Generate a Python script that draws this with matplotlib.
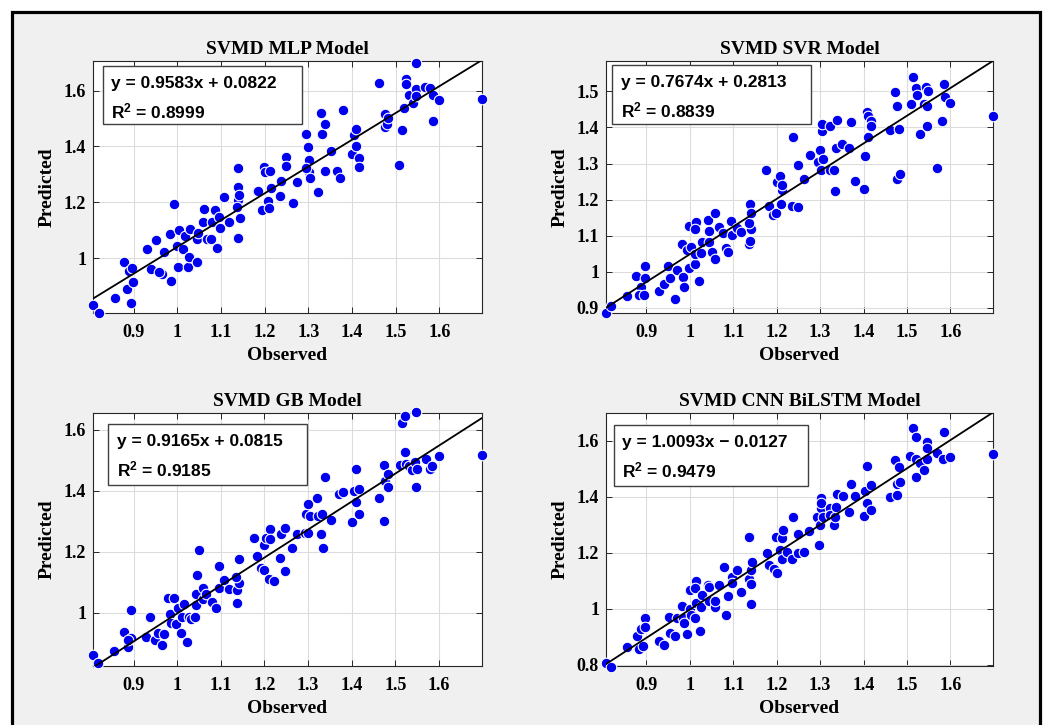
import matplotlib
matplotlib.use("Agg")
import matplotlib.pyplot as plt
from matplotlib.patches import Rectangle
from matplotlib.ticker import MultipleLocator, FuncFormatter

plt.rcParams['mathtext.fontset'] = 'custom'
plt.rcParams['mathtext.rm'] = 'Liberation Sans:bold'
plt.rcParams['mathtext.bf'] = 'Liberation Sans:bold'
plt.rcParams['mathtext.default'] = 'bf'

# --- dados ---
titles = ['SVMD MLP Model', 'SVMD SVR Model', 'SVMD GB Model', 'SVMD CNN BiLSTM Model']
slopes = [0.9583, 0.7674, 0.9165, 1.0093]
intercepts = [0.0822, 0.2813, 0.0815, -0.0127]
r2_values = [0.8999, 0.8839, 0.9185, 0.9479]

obs_mlp = [0.807, 0.821, 0.857, 0.879, 0.889, 0.886, 0.894, 0.898, 0.896, 0.930,
           0.940, 0.951, 0.966, 0.959, 0.970, 0.985, 0.984, 0.993, 0.999, 1.001,
           1.003, 1.014, 1.018, 1.024, 1.026, 1.029, 1.045, 1.045, 1.048, 1.058,
           1.061, 1.067, 1.077, 1.079, 1.086, 1.090, 1.096, 1.098, 1.108, 1.119,
           1.138, 1.140, 1.140, 1.140, 1.142, 1.143, 1.137, 1.182, 1.186, 1.193,
           1.199, 1.201, 1.207, 1.211, 1.212, 1.215, 1.235, 1.237, 1.248, 1.248,
           1.264, 1.275, 1.296, 1.300, 1.302, 1.302, 1.303, 1.294, 1.322, 1.330,
           1.332, 1.338, 1.338, 1.353, 1.367, 1.372, 1.379, 1.400, 1.404, 1.410,
           1.410, 1.416, 1.417, 1.462, 1.475, 1.475, 1.481, 1.482, 1.509, 1.514,
           1.520, 1.523, 1.523, 1.530, 1.539, 1.547, 1.547, 1.547, 1.568, 1.579,
           1.585, 1.585, 1.599, 1.698]
pred_mlp = [0.833, 0.803, 0.857, 0.988, 0.956, 0.889, 0.839, 0.914, 0.964, 1.033,
            0.961, 1.066, 0.944, 0.949, 1.024, 0.919, 1.086, 1.194, 1.044, 0.969,
            1.101, 1.032, 1.081, 0.969, 1.004, 1.104, 0.988, 1.068, 1.089, 1.131,
            1.177, 1.069, 1.068, 1.131, 1.172, 1.036, 1.149, 1.110, 1.219, 1.131,
            1.074, 1.324, 1.256, 1.209, 1.227, 1.144, 1.185, 1.239, 1.239, 1.173,
            1.328, 1.309, 1.205, 1.179, 1.314, 1.253, 1.223, 1.277, 1.364, 1.330,
            1.197, 1.273, 1.444, 1.398, 1.352, 1.310, 1.286, 1.324, 1.236, 1.521,
            1.444, 1.481, 1.313, 1.385, 1.314, 1.286, 1.532, 1.373, 1.441, 1.462,
            1.400, 1.358, 1.328, 1.626, 1.517, 1.471, 1.481, 1.503, 1.332, 1.459,
            1.536, 1.643, 1.623, 1.585, 1.555, 1.698, 1.607, 1.579, 1.614, 1.608,
            1.493, 1.585, 1.567, 1.569]

obs_svr = [0.807, 0.819, 0.855, 0.877, 0.887, 0.884, 0.894, 0.896, 0.896, 0.930,
           0.940, 0.950, 0.955, 0.965, 0.970, 0.982, 0.984, 0.986, 0.993, 0.999,
           0.999, 1.002, 1.011, 1.012, 1.015, 1.011, 1.022, 1.026, 1.027, 1.041,
           1.043, 1.045, 1.050, 1.058, 1.058, 1.068, 1.077, 1.083, 1.089, 1.095,
           1.097, 1.108, 1.118, 1.137, 1.139, 1.140, 1.137, 1.140, 1.139, 1.176,
           1.183, 1.192, 1.199, 1.200, 1.208, 1.210, 1.213, 1.212, 1.235, 1.237,
           1.248, 1.248, 1.263, 1.276, 1.296, 1.300, 1.302, 1.304, 1.304, 1.307,
           1.323, 1.323, 1.332, 1.334, 1.336, 1.338, 1.351, 1.367, 1.371, 1.380,
           1.403, 1.402, 1.407, 1.410, 1.411, 1.417, 1.417, 1.461, 1.472, 1.476,
           1.476, 1.482, 1.484, 1.509, 1.514, 1.520, 1.522, 1.530, 1.539, 1.544,
           1.547, 1.547, 1.549, 1.568, 1.580, 1.585, 1.587, 1.600, 1.698]
pred_svr = [0.886, 0.906, 0.932, 0.989, 0.958, 0.937, 0.937, 1.015, 0.983, 0.946,
            0.967, 1.015, 0.983, 0.925, 1.006, 1.076, 0.985, 0.958, 1.061, 1.127,
            1.010, 1.068, 1.021, 1.050, 1.139, 1.120, 0.975, 1.052, 1.084, 1.143,
            1.084, 1.114, 1.056, 1.035, 1.164, 1.125, 1.107, 1.065, 1.056, 1.141,
            1.102, 1.122, 1.111, 1.076, 1.188, 1.120, 1.134, 1.162, 1.086, 1.281,
            1.183, 1.157, 1.162, 1.249, 1.265, 1.187, 1.226, 1.240, 1.182, 1.373,
            1.180, 1.295, 1.258, 1.323, 1.304, 1.338, 1.281, 1.390, 1.410, 1.313,
            1.405, 1.283, 1.281, 1.224, 1.344, 1.421, 1.353, 1.343, 1.415, 1.252,
            1.320, 1.230, 1.442, 1.433, 1.373, 1.417, 1.403, 1.393, 1.497, 1.458,
            1.258, 1.396, 1.270, 1.465, 1.540, 1.509, 1.491, 1.381, 1.465, 1.513,
            1.458, 1.405, 1.502, 1.288, 1.419, 1.520, 1.483, 1.469, 1.431]

obs_gb = [0.807, 0.818, 0.855, 0.877, 0.887, 0.895, 0.895, 0.887, 0.928, 0.938,
          0.950, 0.956, 0.966, 0.970, 0.980, 0.983, 0.986, 0.992, 0.998, 1.002,
          1.009, 1.012, 1.015, 1.023, 1.026, 1.031, 1.040, 1.044, 1.044, 1.046,
          1.051, 1.059, 1.059, 1.067, 1.080, 1.088, 1.095, 1.097, 1.107, 1.118,
          1.138, 1.138, 1.141, 1.142, 1.135, 1.176, 1.183, 1.193, 1.200, 1.199,
          1.204, 1.210, 1.213, 1.214, 1.223, 1.235, 1.237, 1.247, 1.247, 1.263,
          1.275, 1.294, 1.295, 1.301, 1.301, 1.305, 1.321, 1.322, 1.330, 1.332,
          1.334, 1.338, 1.353, 1.372, 1.380, 1.401, 1.405, 1.410, 1.409, 1.418,
          1.418, 1.462, 1.475, 1.475, 1.477, 1.483, 1.483, 1.511, 1.515, 1.522,
          1.523, 1.524, 1.532, 1.539, 1.547, 1.547, 1.546, 1.551, 1.570, 1.579,
          1.585, 1.601, 1.699]
pred_gb = [0.862, 0.837, 0.875, 0.939, 0.887, 0.917, 1.010, 0.911, 0.920, 0.986,
           0.911, 0.933, 0.895, 0.931, 1.050, 0.996, 0.968, 1.050, 0.964, 1.015,
           0.933, 0.986, 1.028, 0.904, 0.988, 0.979, 0.988, 1.026, 1.062, 1.125,
           1.207, 1.045, 1.083, 1.061, 1.035, 1.015, 1.154, 1.083, 1.108, 1.078,
           1.032, 1.075, 1.099, 1.178, 1.119, 1.247, 1.187, 1.148, 1.141, 1.223,
           1.245, 1.111, 1.274, 1.242, 1.103, 1.181, 1.258, 1.278, 1.138, 1.212,
           1.258, 1.263, 1.325, 1.356, 1.261, 1.316, 1.376, 1.316, 1.258, 1.325,
           1.212, 1.444, 1.305, 1.390, 1.395, 1.299, 1.398, 1.471, 1.362, 1.405,
           1.325, 1.376, 1.485, 1.302, 1.431, 1.414, 1.456, 1.485, 1.622, 1.526,
           1.644, 1.487, 1.482, 1.469, 1.657, 1.412, 1.496, 1.472, 1.504, 1.471,
           1.480, 1.515, 1.516]

obs_cnn = [0.807, 0.819, 0.855, 0.878, 0.884, 0.892, 0.888, 0.896, 0.896, 0.930,
           0.940, 0.951, 0.955, 0.965, 0.970, 0.982, 0.984, 0.986, 0.993, 1.000,
           1.001, 1.003, 1.012, 1.015, 1.015, 1.011, 1.024, 1.026, 1.028, 1.041,
           1.045, 1.045, 1.058, 1.058, 1.068, 1.079, 1.083, 1.089, 1.097, 1.097,
           1.108, 1.117, 1.137, 1.137, 1.140, 1.141, 1.143, 1.140, 1.177, 1.183,
           1.194, 1.200, 1.199, 1.208, 1.212, 1.212, 1.214, 1.223, 1.236, 1.237,
           1.248, 1.248, 1.263, 1.275, 1.292, 1.297, 1.300, 1.302, 1.303, 1.303,
           1.306, 1.323, 1.323, 1.333, 1.334, 1.337, 1.338, 1.352, 1.367, 1.371,
           1.380, 1.401, 1.403, 1.409, 1.409, 1.416, 1.416, 1.461, 1.472, 1.476,
           1.476, 1.482, 1.484, 1.508, 1.514, 1.520, 1.520, 1.520, 1.530, 1.539,
           1.546, 1.546, 1.546, 1.568, 1.583, 1.586, 1.600, 1.698]
pred_cnn = [0.805, 0.793, 0.864, 0.902, 0.855, 0.867, 0.926, 0.966, 0.933, 0.885,
            0.870, 0.971, 0.912, 0.902, 0.966, 1.010, 0.966, 0.948, 0.910, 1.067,
            0.998, 0.977, 0.966, 1.100, 1.021, 1.073, 0.920, 1.007, 1.049, 1.084,
            1.076, 1.027, 1.007, 1.027, 1.084, 1.147, 0.977, 1.045, 1.114, 1.093,
            1.138, 1.061, 1.257, 1.105, 1.017, 1.138, 1.168, 1.088, 1.200, 1.156,
            1.142, 1.128, 1.257, 1.209, 1.176, 1.251, 1.281, 1.203, 1.176, 1.328,
            1.200, 1.266, 1.203, 1.278, 1.328, 1.227, 1.298, 1.361, 1.394, 1.376,
            1.328, 1.358, 1.334, 1.298, 1.328, 1.364, 1.411, 1.403, 1.346, 1.447,
            1.403, 1.331, 1.421, 1.510, 1.378, 1.441, 1.354, 1.400, 1.530, 1.405,
            1.447, 1.507, 1.453, 1.545, 1.647, 1.614, 1.471, 1.533, 1.521, 1.495,
            1.596, 1.575, 1.533, 1.556, 1.536, 1.631, 1.542, 1.551]

observed = [obs_mlp, obs_svr, obs_gb, obs_cnn]
predicted = [pred_mlp, pred_svr, pred_gb, pred_cnn]
y_limits = [(0.804, 1.706), (0.886, 1.584), (0.826, 1.655), (0.795, 1.699)]
y_steps = [0.2, 0.1, 0.2, 0.2]

# posicoes dos eixos em pixels (esq, topo, dir, base) e caixa do texto (fracao do eixo)
W, H = 1046, 725
ax_px = [(93, 61, 482, 313), (606, 61, 993, 313),
         (93, 413, 482, 666), (606, 413, 993, 666)]
boxes = [(0.025, 0.750, 0.538, 0.980), (0.016, 0.750, 0.530, 0.984),
         (0.039, 0.715, 0.551, 0.955), (0.021, 0.711, 0.523, 0.953)]

fig = plt.figure(figsize=(W / 100, H / 100), dpi=100, facecolor='white')
moldura = Rectangle((12 / W, -0.02), (1040 - 12) / W, 1.02 - 12 / H,
                    transform=fig.transFigure, facecolor='#f0f0f0',
                    edgecolor='black', linewidth=2.3, zorder=-10)
fig.add_artist(moldura)

serif = 'Liberation Serif'
fmt = FuncFormatter(lambda v, p: '%g' % round(v, 4))

for i in range(4):
    l, t, r, b = ax_px[i]
    ax = fig.add_axes([l / W, 1 - b / H, (r - l) / W, (b - t) / H], zorder=1)
    ax.set_facecolor('white')
    x = observed[i]
    y = predicted[i]
    ax.scatter(x, y, s=58, color='#0000ee', edgecolors='white', linewidths=0.8,
               zorder=3, clip_on=False)
    x0, x1 = min(x), max(x)
    ax.plot([x0, x1], [slopes[i] * x0 + intercepts[i], slopes[i] * x1 + intercepts[i]],
            color='black', lw=1.3, zorder=4)
    ax.set_xlim(x0, x1)
    ax.set_ylim(*y_limits[i])
    ax.xaxis.set_major_locator(MultipleLocator(0.1))
    ax.yaxis.set_major_locator(MultipleLocator(y_steps[i]))
    ax.xaxis.set_major_formatter(fmt)
    ax.yaxis.set_major_formatter(fmt)
    ax.grid(True, color='#dcdcdc', lw=0.8, zorder=0)
    ax.set_axisbelow(True)
    ax.tick_params(direction='in', length=4, width=0.7, top=True, right=True,
                   colors='#262626')
    ax.tick_params(axis='x', pad=8)
    ax.tick_params(axis='y', pad=5)
    for lab in ax.get_xticklabels() + ax.get_yticklabels():
        lab.set_fontfamily(serif)
        lab.set_fontweight('bold')
        lab.set_fontsize(13)
        lab.set_color('black')
    for sp in ax.spines.values():
        sp.set_color('#262626')
        sp.set_linewidth(0.8)
    ax.set_title(titles[i], fontfamily=serif, fontweight='bold', fontsize=14, pad=5)
    ax.set_xlabel('Observed', fontfamily=serif, fontweight='bold', fontsize=14, labelpad=4)
    ax.set_ylabel('Predicted', fontfamily=serif, fontweight='bold', fontsize=14, labelpad=6)

    bl, bb, br, bt = boxes[i]
    ax.add_patch(Rectangle((bl, bb), br - bl, bt - bb, transform=ax.transAxes,
                           facecolor='white', edgecolor='#404040', lw=1.0, zorder=5))
    sign = '+' if intercepts[i] >= 0 else '\u2212'
    eq = 'y = %.4fx %s %.4f' % (slopes[i], sign, abs(intercepts[i]))
    ax.annotate(eq, xy=(bl, bt), xycoords='axes fraction', xytext=(6, -12.5),
                textcoords='offset points', va='center', ha='left',
                fontfamily='Liberation Sans', fontweight='bold', fontsize=12.5, zorder=6)
    ax.annotate('R$^2$ = %.4f' % r2_values[i], xy=(bl, bt), xycoords='axes fraction',
                xytext=(6, -32.5), textcoords='offset points', va='center', ha='left',
                fontfamily='Liberation Sans', fontweight='bold', fontsize=12.5, zorder=6)

fig.savefig('out.png', dpi=100, facecolor=fig.get_facecolor())
